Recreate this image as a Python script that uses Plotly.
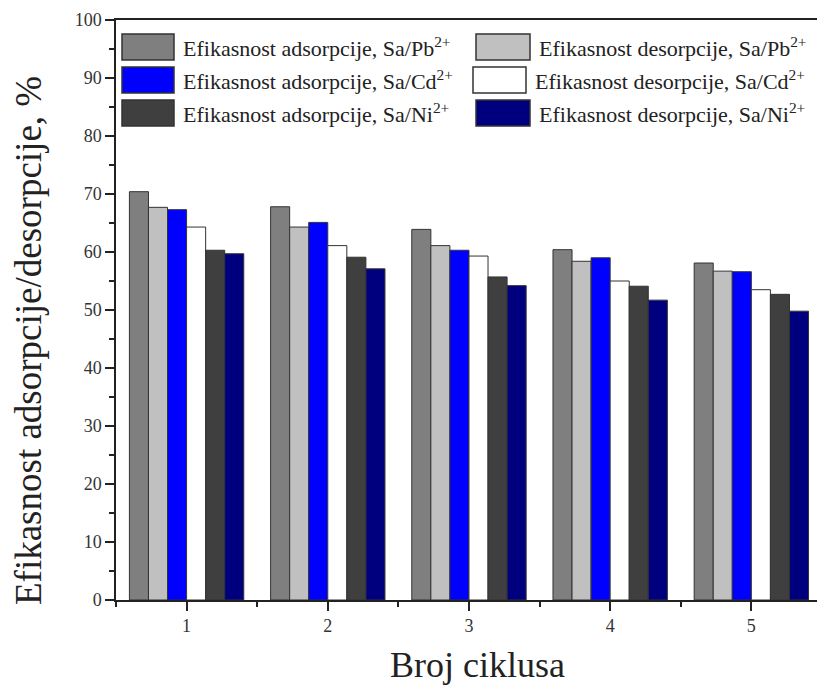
import plotly.graph_objects as go

cycles = [1, 2, 3, 4, 5]
series_names = [
    "Efikasnost adsorpcije, Sa/Pb<sup>2+</sup>",
    "Efikasnost desorpcije, Sa/Pb<sup>2+</sup>",
    "Efikasnost adsorpcije, Sa/Cd<sup>2+</sup>",
    "Efikasnost desorpcije, Sa/Cd<sup>2+</sup>",
    "Efikasnost adsorpcije, Sa/Ni<sup>2+</sup>",
    "Efikasnost desorpcije, Sa/Ni<sup>2+</sup>",
]
ads_pb = [70.4, 67.8, 63.9, 60.4, 58.1]
des_pb = [67.7, 64.3, 61.1, 58.4, 56.7]
ads_cd = [67.3, 65.1, 60.3, 59.0, 56.6]
des_cd = [64.3, 61.1, 59.3, 55.0, 53.5]
ads_ni = [60.3, 59.1, 55.7, 54.1, 52.7]
des_ni = [59.7, 57.1, 54.2, 51.7, 49.8]
values = [ads_pb, des_pb, ads_cd, des_cd, ads_ni, des_ni]
colors = ["#7f7f7f", "#c0c0c0", "#0000ff", "#ffffff", "#3f3f3f", "#00007f"]
x_title = "Broj ciklusa"
y_title = "Efikasnost adsorpcije/desorpcije, %"

FONT = "Liberation Serif, Times New Roman, serif"

fig = go.Figure()
for name, vals, col in zip(series_names, values, colors):
    fig.add_trace(go.Bar(
        x=cycles, y=vals, name=name,
        marker=dict(color=col, line=dict(color="#333333", width=1)),
        showlegend=False,
    ))

# plot area in pixels
L, R, T, B = 116, 817, 20, 600
W, H = R - L, B - T

def px(x):
    return (x - L) / W

def py(y):
    return (B - y) / H

# custom legend (big swatches as in reference)
rows_y = [(34, 60), (67, 93), (100, 126)]
cols = [(122, 174, 181), (476, 530, 537)]
shapes = []
annotations = []
for i, (name, col) in enumerate(zip(series_names, colors)):
    r, c = i // 2, i % 2
    x0, x1, tx = cols[c]
    if i == 3:
        x0, x1, tx = 473, 526, 533
    y0, y1 = rows_y[r]
    shapes.append(dict(type="rect", xref="paper", yref="paper",
                       x0=px(x0), x1=px(x1), y0=py(y1), y1=py(y0),
                       fillcolor=col, line=dict(color="#333333", width=1.5)))
    annotations.append(dict(xref="paper", yref="paper", x=px(tx), y=py((y0 + y1) / 2),
                            xanchor="left", yanchor="middle", showarrow=False,
                            text=name, font=dict(family=FONT, size=22, color="#222222")))

annotations.append(dict(xref="paper", yref="paper", x=px(477), y=py(665),
                        xanchor="center", yanchor="middle", showarrow=False,
                        text=x_title, font=dict(family=FONT, size=36, color="#222222")))
annotations.append(dict(xref="paper", yref="paper", x=px(29), y=py(341),
                        xanchor="center", yanchor="middle", showarrow=False, textangle=-90,
                        text=y_title, font=dict(family=FONT, size=37, color="#222222")))

fig.update_layout(
    width=817, height=691,
    margin=dict(l=L, r=817 - R, t=T, b=691 - B),
    paper_bgcolor="white", plot_bgcolor="white",
    barmode="group", bargap=0.19, bargroupgap=0,
    font=dict(family=FONT, color="#222222"),
    shapes=shapes, annotations=annotations,
    xaxis=dict(
        range=[0.5, 5.465], tickmode="array", tickvals=cycles,
        ticks="outside", ticklen=9, tickwidth=1.5, tickcolor="#222222",
        showline=True, linecolor="#222222", linewidth=1.5, mirror=True,
        showgrid=False, zeroline=False,
        tickfont=dict(family=FONT, size=18, color="#333333"),
        minor=dict(dtick=0.5, tick0=0.5, ticks="outside", ticklen=5, tickwidth=1.5, tickcolor="#222222", showgrid=False),
    ),
    yaxis=dict(
        range=[0, 100], dtick=10, tick0=0,
        ticks="outside", ticklen=9, tickwidth=1.5, tickcolor="#222222",
        showline=True, linecolor="#222222", linewidth=1.5, mirror=False,
        showgrid=False, zeroline=False,
        tickfont=dict(family=FONT, size=18, color="#333333"),
        minor=dict(dtick=5, ticks="outside", ticklen=5, tickwidth=1.5, tickcolor="#222222", showgrid=False),
    ),
)

fig.write_html("out.html")
